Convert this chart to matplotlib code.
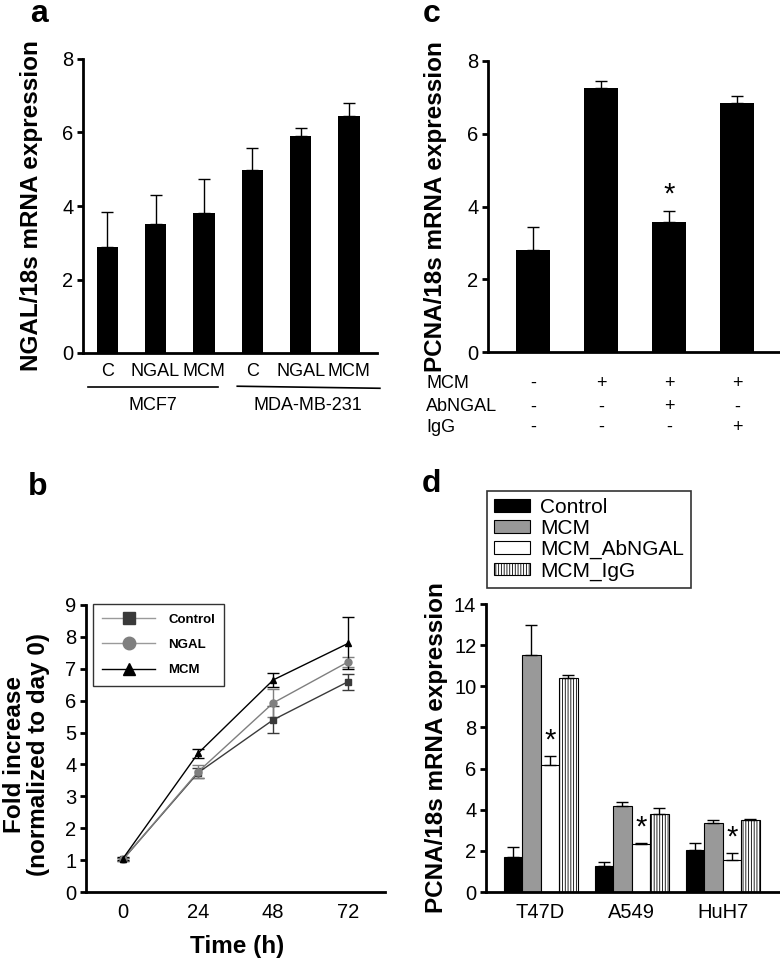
import numpy as np
import matplotlib
matplotlib.use("Agg")
import matplotlib.pyplot as plt
from matplotlib.patches import Patch
from matplotlib.lines import Line2D

plt.rcParams["font.family"] = ["Liberation Sans", "DejaVu Sans"]
plt.rcParams["hatch.linewidth"] = 0.6

# panel a
a_labels = ["C", "NGAL", "MCM", "C", "NGAL", "MCM"]
a_values = [2.88, 3.51, 3.81, 4.98, 5.90, 6.45]
a_err = [0.95, 0.80, 0.93, 0.60, 0.22, 0.35]
a_groups = ["MCF7", "MDA-MB-231"]

# panel c
c_values = [2.80, 7.25, 3.57, 6.85]
c_err = [0.63, 0.20, 0.30, 0.20]
c_rows = ["MCM", "AbNGAL", "IgG"]
c_signs = [["-", "+", "+", "+"],
           ["-", "-", "+", "-"],
           ["-", "-", "-", "+"]]

# panel b
b_time = [0, 24, 48, 72]
b_control = [1.02, 3.74, 5.40, 6.60]
b_control_err = [0.05, 0.15, 0.42, 0.25]
b_ngal = [1.02, 3.77, 5.93, 7.22]
b_ngal_err = [0.05, 0.20, 0.45, 0.15]
b_mcm = [1.05, 4.35, 6.65, 7.80]
b_mcm_err = [0.05, 0.15, 0.22, 0.82]

# panel d
d_groups = ["T47D", "A549", "HuH7"]
d_series = ["Control", "MCM", "MCM_AbNGAL", "MCM_IgG"]
d_control = [1.72, 1.28, 2.05]
d_control_err = [0.45, 0.19, 0.35]
d_mcm = [11.5, 4.20, 3.37]
d_mcm_err = [1.50, 0.19, 0.13]
d_abngal = [6.17, 2.32, 1.56]
d_abngal_err = [0.43, 0.08, 0.33]
d_igg = [10.40, 3.78, 3.50]
d_igg_err = [0.15, 0.32, 0.07]

W, H = 780, 968
fig = plt.figure(figsize=(W / 100, H / 100), dpi=100)


def px_axes(l, t, r, b):
    return fig.add_axes([l / W, 1 - b / H, (r - l) / W, (b - t) / H])


def style(ax):
    for s in ["top", "right"]:
        ax.spines[s].set_visible(False)
    for s in ["left", "bottom"]:
        ax.spines[s].set_linewidth(2)
    ax.tick_params(axis="y", direction="out", length=4, width=2, labelsize=14.5, pad=3)
    ax.tick_params(axis="x", length=0, labelsize=13)


# ---- a ----
ax = px_axes(83, 59, 377, 353)
style(ax)
xa = np.arange(len(a_values))
ax.bar(xa, a_values, width=0.44, color="black")
ax.errorbar(xa, a_values, yerr=[np.zeros(len(a_err)), a_err], fmt="none",
            ecolor="black", elinewidth=1, capsize=4, capthick=1)
ax.set_xlim(-0.5, 5.58)
ax.set_ylim(0, 8)
ax.set_yticks([0, 2, 4, 6, 8])
ax.set_xticks(xa)
ax.set_xticklabels(a_labels)
ax.tick_params(axis="x", pad=7)
ax.set_ylabel("NGAL/18s mRNA expression", fontsize=17.5, fontweight="bold")
ax.yaxis.set_label_coords(-0.136, 0.5)
tr = ax.get_xaxis_transform()
ax.plot([-0.39, 2.29], [-0.116, -0.116], color="black", lw=1.2, transform=tr, clip_on=False)
ax.plot([2.69, 5.64], [-0.113, -0.12], color="black", lw=1.2, transform=tr, clip_on=False)
ax.text(0.95, -0.18, a_groups[0], transform=tr, ha="center", va="center", fontsize=13)
ax.text(4.15, -0.18, a_groups[1], transform=tr, ha="center", va="center", fontsize=13)

# ---- c ----
ax = px_axes(488, 61, 780, 352)
style(ax)
xc = np.arange(len(c_values))
ax.bar(xc, c_values, width=0.49, color="black")
ax.errorbar(xc, c_values, yerr=[np.zeros(len(c_err)), c_err], fmt="none",
            ecolor="black", elinewidth=1, capsize=4, capthick=1)
ax.set_xlim(-0.66, 3.63)
ax.set_ylim(0, 8)
ax.set_yticks([0, 2, 4, 6, 8])
ax.set_xticks([])
ax.set_ylabel("PCNA/18s mRNA expression", fontsize=17.5, fontweight="bold")
ax.yaxis.set_label_coords(-0.14, 0.5)
ax.annotate("*", (xc[2], c_values[2] + c_err[2]), xytext=(0, 2),
            textcoords="offset points", ha="center", va="bottom", fontsize=21)
tr = ax.get_xaxis_transform()
for row, ypos, signs in zip(c_rows, [-0.107, -0.189, -0.258], c_signs):
    ax.text(-1.57, ypos, row, transform=tr, ha="left", va="center", fontsize=13)
    for xi, s in zip(xc, signs):
        ax.text(xi, ypos, s, transform=tr, ha="center", va="center", fontsize=13)

# ---- b ----
ax = px_axes(86, 605, 385, 892)
style(ax)
ax.tick_params(axis="x", labelsize=14.5, pad=8)
ax.errorbar(b_time, b_control, yerr=b_control_err, color="#3a3a3a", marker="s",
            markersize=5, lw=1, capsize=4, elinewidth=1, label="Control")
ax.errorbar(b_time, b_ngal, yerr=b_ngal_err, color="#7f7f7f", marker="o",
            markersize=5, lw=1, capsize=4, elinewidth=1, label="NGAL")
ax.errorbar(b_time, b_mcm, yerr=b_mcm_err, color="black", marker="^",
            markersize=5, lw=1, capsize=4, elinewidth=1, label="MCM")
ax.set_xlim(-11.8, 83.7)
ax.set_ylim(0, 9)
ax.set_yticks(range(10))
ax.set_xticks(b_time)
ax.set_ylabel("Fold increase\n(normalized to day 0)", fontsize=17.5,
              fontweight="bold", linespacing=1.05)
ax.yaxis.set_label_coords(-0.12, 0.48)
ax.set_xlabel("Time (h)", fontsize=17.5, fontweight="bold")
ax.xaxis.set_label_coords(0.505, -0.15)
handles = [Line2D([], [], color="#9a9a9a", marker="s", markersize=9, lw=1,
                  markerfacecolor="#3a3a3a", markeredgecolor="#3a3a3a"),
           Line2D([], [], color="#9a9a9a", marker="o", markersize=9, lw=1,
                  markerfacecolor="#7f7f7f", markeredgecolor="#7f7f7f"),
           Line2D([], [], color="black", marker="^", markersize=9, lw=1)]
leg = ax.legend(handles, ["Control", "NGAL", "MCM"], loc="upper left",
                bbox_to_anchor=(0.023, 1.003), borderaxespad=0,
                prop={"weight": "bold", "size": 9.5}, frameon=True, fancybox=False,
                edgecolor="black", handlelength=4.0, handletextpad=1.0,
                labelspacing=1.0, borderpad=0.7)
leg.get_frame().set_linewidth(1)

# ---- d ----
ax = px_axes(486, 604, 780, 892)
style(ax)
ax.tick_params(axis="x", labelsize=14.5, pad=8)
xd = np.arange(len(d_groups))
w = 0.203
vals = [d_control, d_mcm, d_abngal, d_igg]
errs = [d_control_err, d_mcm_err, d_abngal_err, d_igg_err]
faces = ["black", "#999999", "white", "white"]
hatches = [None, None, None, "||||||"]
for j in range(4):
    pos = xd + (j - 1.5) * w
    ax.bar(pos, vals[j], width=w, color=faces[j], edgecolor="black",
           linewidth=0.8, hatch=hatches[j], label=d_series[j])
    ax.errorbar(pos, vals[j], yerr=[np.zeros(3), errs[j]], fmt="none",
                ecolor="black", elinewidth=1, capsize=4, capthick=1)
for i in xd:
    ax.annotate("*", (i + 0.5 * w, d_abngal[i] + d_abngal_err[i]), xytext=(0, 1),
                textcoords="offset points", ha="center", va="bottom", fontsize=21)
ax.set_xlim(-0.6, 2.63)
ax.set_ylim(0, 14)
ax.set_yticks(range(0, 15, 2))
ax.set_xticks(xd)
ax.set_xticklabels(d_groups)
ax.set_ylabel("PCNA/18s mRNA expression", fontsize=17.5, fontweight="bold")
ax.yaxis.set_label_coords(-0.129, 0.5)
hd = [Patch(facecolor=f, edgecolor="black", hatch=h, linewidth=0.8)
      for f, h in zip(faces, hatches)]
leg = ax.legend(hd, d_series, loc="lower left", bbox_to_anchor=(0.003, 1.056),
                borderaxespad=0, fontsize=15, frameon=True, fancybox=False,
                edgecolor="black", handlelength=1.7, handleheight=0.55,
                handletextpad=0.5, labelspacing=0.1, borderpad=0.35)
leg.get_frame().set_linewidth(1.2)

# panel letters
for letter, x, y in [("a", 30, 22), ("c", 423, 22), ("b", 28, 495), ("d", 422, 492)]:
    fig.text(x / W, 1 - y / H, letter, fontsize=23, fontweight="bold",
             ha="left", va="baseline")

plt.savefig("out.png", dpi=100)
plt.close()
